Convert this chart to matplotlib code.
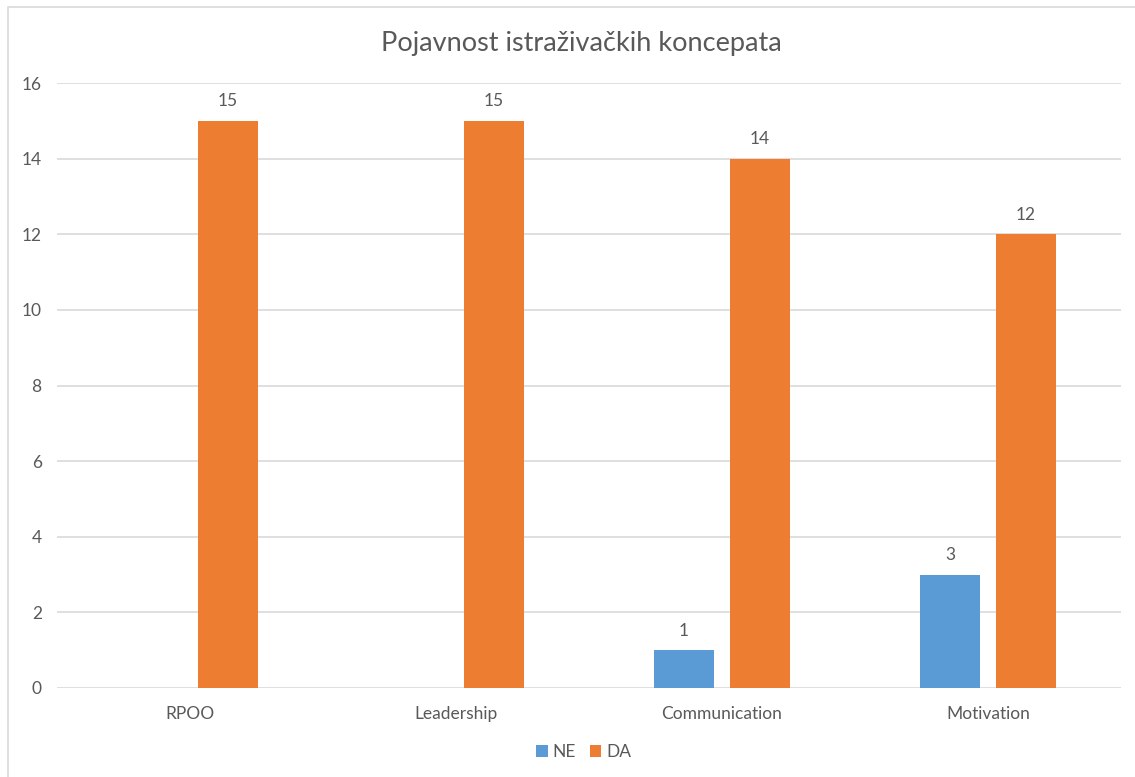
import matplotlib
matplotlib.use("Agg")
import matplotlib.pyplot as plt
import numpy as np
from matplotlib.patches import Rectangle

categories = ["RPOO", "Leadership", "Communication", "Motivation"]
ne_values = [0, 0, 1, 3]
da_values = [15, 15, 14, 12]
series_names = ["NE", "DA"]
yticks = [0, 2, 4, 6, 8, 10, 12, 14, 16]

plt.rcParams['font.family'] = ['Lato', 'DejaVu Sans']

W, H = 1135, 777
fig = plt.figure(figsize=(W / 100, H / 100), dpi=100)
ax = fig.add_axes([57 / W, 1 - 688 / H, (1121 - 57) / W, (688 - 83) / H])

x = np.arange(len(categories))
bw = 0.2256
off = 0.143
blue = "#5B9BD5"
orange = "#ED7D31"
b1 = ax.bar(x - off, ne_values, bw, color=blue, label=series_names[0], zorder=3)
b2 = ax.bar(x + off, da_values, bw, color=orange, label=series_names[1], zorder=3)

txtc = "#595959"
fs = 12.5
for rects, vals in ((b1, ne_values), (b2, da_values)):
    for r, v in zip(rects, vals):
        if v == 0:
            continue
        ax.text(r.get_x() + r.get_width() / 2, v + 0.3, str(v), ha="center",
                va="bottom", fontsize=fs, color=txtc)

ax.set_xlim(-0.5, len(categories) - 0.5)
ax.set_ylim(0, 16)
ax.set_yticks(yticks)
ax.set_yticklabels([str(t) for t in yticks])
ax.set_xticks(x)
ax.set_xticklabels(categories)
ax.tick_params(axis="both", length=0, labelsize=fs, labelcolor=txtc)
ax.tick_params(axis="y", pad=11)
ax.tick_params(axis="x", pad=13)
ax.grid(axis="y", color="#D9D9D9", linewidth=1.2, zorder=0)
for s in ax.spines.values():
    s.set_visible(False)
ax.set_axisbelow(True)

fig.text(581 / W, 1 - 43 / H, "Pojavnost istraživačkih koncepata", ha="center",
         va="center", fontsize=19.5, color=txtc)

leg = fig.legend(handles=[b1, b2], labels=series_names, loc="center",
                 bbox_to_anchor=(584 / W, 1 - 752 / H), ncol=2, frameon=False,
                 fontsize=fs, handlelength=0.65, handleheight=0.65,
                 handletextpad=0.3, columnspacing=0.8)
for t in leg.get_texts():
    t.set_color(txtc)

border = Rectangle((8 / W, -0.05), 1.1, 1 - 7 / H + 0.05, transform=fig.transFigure,
                   fill=False, edgecolor="#D9D9D9", linewidth=1.2)
fig.patches.append(border)

fig.savefig("out.png", dpi=100)
